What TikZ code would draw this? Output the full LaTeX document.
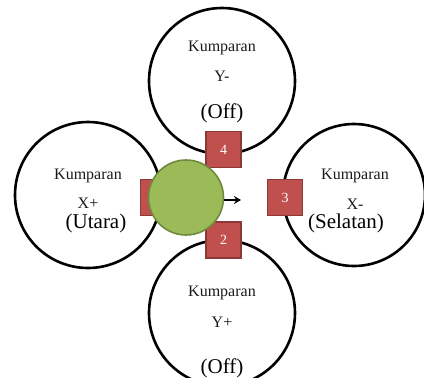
\documentclass[tikz,border=0pt]{standalone}
\usepackage{fontspec}
\setmainfont{Liberation Serif}
\usetikzlibrary{arrows.meta}
\definecolor{sqred}{HTML}{C0504D}
\definecolor{sqborder}{HTML}{8C3836}
\definecolor{ballgreen}{HTML}{9BBB59}
\definecolor{ballborder}{HTML}{71893F}
\definecolor{labelgray}{HTML}{1A1A1A}
\begin{document}
\begin{tikzpicture}[x=1pt,y=-1pt,
  coil/.style={circle, draw=black, line width=2.6pt, inner sep=0pt},
  pad/.style={rectangle, fill=sqred, draw=sqborder, line width=1.2pt,
    minimum width=35pt, minimum height=36pt, inner sep=0pt, text=white,
    font=\fontsize{14}{14}\selectfont},
  small/.style={inner sep=0pt, text=labelgray, font=\fontsize{16}{16}\selectfont},
  big/.style={inner sep=0pt, text=black, font=\fontsize{21}{21}\selectfont},
  ball/.style={circle, fill=ballgreen, draw=ballborder, line width=1.6pt,
    minimum size=75pt, inner sep=0pt},
  arr/.style={-{Stealth[length=7pt,width=8pt]}, line width=2pt}
]
\useasboundingbox (0,0) rectangle (424,378);
% coils
\node[coil, minimum size=146pt] (ctop) at (222,81) {};
\node[coil, minimum size=146pt] (cbot) at (222,313) {};
\node[coil, minimum size=146pt] (cleft) at (88,195) {};
\node[coil, minimum size=142pt] (cright) at (354,195) {};
% labels
\node[small] (t1) at (222,48) {Kumparan};
\node[small] (t2) at (222,76) {Y-};
\node[big] (t3) at (222,113) {(Off)};
\node[small] (b1) at (222,293) {Kumparan};
\node[small] (b2) at (222,322) {Y+};
\node[big] (b3) at (222,368) {(Off)};
\node[small] (l1) at (88,176) {Kumparan};
\node[small] (l2) at (88,203) {X+};
\node[big] (l3) at (96,223) {(Utara)};
\node[small] (r1) at (355,176) {Kumparan};
\node[small] (r2) at (355,204) {X-};
\node[big] (r3) at (346,223) {(Selatan)};
% pads
\node[pad] (p4) at (223.5,149.5) {4};
\node[pad] (p2) at (223.5,240) {2};
\node[pad] (p3) at (285,197.5) {3};
\node[pad] (p1) at (158,197.5) {1};
% rotor
\node[ball] (rotor) at (186,197.5) {};
\coordinate (tip) at (241,200);
\draw[arr] (rotor.east |- tip) -- (tip);
\end{tikzpicture}
\end{document}
